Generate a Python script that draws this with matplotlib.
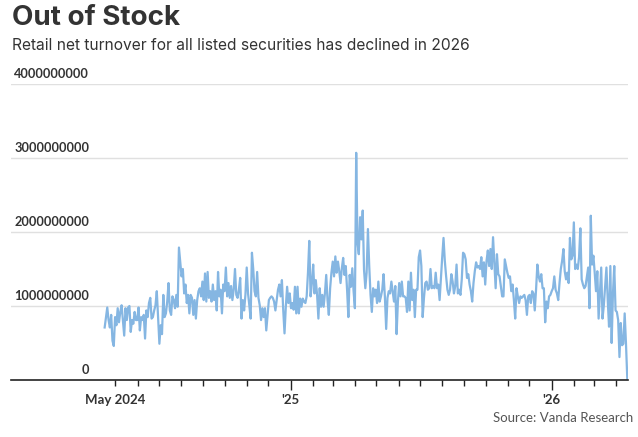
import pandas as pd
import numpy as np
import matplotlib.pyplot as plt
import matplotlib.transforms as mtransforms

# retail net turnover, billions (roughly every trading day or so)
turnover_bn = [
    0.71, 0.85, 0.98, 0.81, 0.71, 0.88, 0.53, 0.46, 0.85, 0.74, 0.97, 0.78, 0.92, 1.01, 0.81, 0.60,
    0.97, 0.81, 0.98, 1.00, 0.65, 0.81, 0.76, 0.92, 0.81, 0.81, 0.98, 0.67, 0.85, 0.81, 0.88, 0.56,
    0.94, 0.85, 1.04, 1.11, 0.83, 0.85, 0.94, 1.01, 1.20, 0.85, 0.49, 0.74, 0.62, 1.15, 0.85, 0.90,
    1.06, 1.31, 0.94, 0.88, 1.13, 1.08, 0.97, 1.15, 0.99, 1.79, 1.59, 1.40, 1.50, 1.17, 1.29, 1.04,
    1.15,
    0.90, 1.15, 1.11, 0.88, 1.08, 0.83, 1.08, 1.20, 1.24, 1.13, 1.33, 1.08, 1.44, 1.06, 1.46, 1.11,
    1.20, 1.06, 1.29, 1.08, 1.20, 0.94, 1.46, 1.13, 1.22, 0.90, 1.29, 1.20, 1.52, 1.13, 1.31, 1.11,
    1.27, 1.08, 1.22, 1.50, 1.15, 1.11, 1.22, 1.38, 0.83, 1.08, 0.94, 1.15, 1.52, 1.17, 1.01, 0.83,
    1.72, 1.50, 1.20, 1.13, 1.46, 1.11, 1.01, 0.81, 0.97, 0.85, 0.97, 0.67, 0.88, 1.08, 1.11, 1.13,
    1.11, 1.06, 0.94, 1.08, 1.22, 1.29,
    1.13, 1.35, 0.95, 0.63, 0.99, 1.26, 1.04, 1.17, 0.97, 1.04, 0.95, 1.26, 0.90, 1.26, 0.90, 1.10,
    0.99, 1.10, 1.06, 1.04, 1.13, 1.45, 1.88, 1.13, 1.31, 1.56, 1.17, 1.35, 1.15, 0.83, 1.24, 0.99,
    1.15, 0.99, 1.17, 1.42, 1.08, 0.88, 1.24, 1.45, 1.60, 1.40, 1.67, 1.45, 1.60, 1.47, 1.31, 1.51,
    1.65, 1.42, 1.54, 1.22, 0.85, 1.42, 1.26, 1.51, 1.20, 0.97, 3.07, 1.85, 1.70, 2.20, 1.90, 2.29,
    1.49, 1.24, 1.45, 2.04, 1.54,
    1.15, 0.92, 1.24, 1.13, 1.22, 1.04, 1.33, 1.06, 1.13, 1.22, 1.43, 1.13, 0.69, 1.11, 1.20, 1.17,
    1.33, 1.20, 1.06, 1.27, 0.62, 1.06, 1.31, 1.13, 1.33, 1.13, 1.13, 1.11, 0.92, 1.33, 0.94, 1.45,
    1.08, 1.22, 0.85, 1.22, 1.22, 1.66, 1.75, 1.54, 0.85, 1.11, 1.31, 1.33, 1.22, 1.24, 1.50, 1.24,
    1.27, 1.24, 1.45, 1.24, 1.29, 1.08, 1.38, 1.66, 1.92, 1.61, 1.40, 1.22, 1.15, 1.22, 1.43, 1.33,
    1.17, 1.27, 1.56,
    1.17, 1.22, 1.15, 1.36, 1.72, 1.70, 1.63, 1.38, 1.43, 1.29, 1.20, 1.06, 1.31, 1.47, 1.59, 1.52,
    1.54, 1.50, 1.66, 1.40, 1.59, 1.29, 1.61, 1.75, 1.54, 1.77, 1.50, 1.93, 1.59, 1.24, 1.70, 1.43,
    1.40, 1.27, 1.13, 1.13, 1.63, 1.54, 1.45, 1.38, 1.40, 1.20, 1.29, 1.08, 0.83, 1.24, 1.13, 1.04,
    1.13, 1.11, 1.13, 1.15, 1.08, 0.88, 1.13, 1.15, 1.04, 1.20, 1.17, 0.94, 1.22, 1.56, 1.40, 1.33,
    1.43, 1.24, 1.24,
    0.78, 1.06, 0.97, 1.13, 1.15, 1.20, 1.24, 1.40, 1.22, 1.17, 1.08, 1.31, 1.50, 1.61, 1.77, 1.47,
    1.36, 1.45, 1.31, 1.92, 1.63, 1.68, 2.13, 1.50, 1.56, 1.50, 1.66, 2.05, 1.36, 1.29, 1.24, 1.27,
    1.40, 1.52, 0.97, 2.22, 1.56, 1.68, 1.45, 1.20, 1.47, 0.83, 1.17, 1.52, 0.83, 1.01, 1.27, 1.52,
    1.08, 0.72, 1.54, 0.50, 1.17, 1.54, 0.94, 0.92, 0.81, 0.31, 0.77, 0.47, 0.49, 0.90, 0.49, 0.02,
]
first_day = '2024-04-16'
last_day = '2026-04-17'

y_ticks = [0, 1000000000, 2000000000, 3000000000, 4000000000]
x_labels = {'2024-05-01': 'May 2024', '2025-01-01': "'25", '2026-01-01': "'26"}

dates = pd.date_range(first_day, last_day, periods=len(turnover_bn))
values = np.array(turnover_bn) * 1e9

plt.rcParams['font.family'] = ['Lato', 'DejaVu Sans']

fig = plt.figure(figsize=(6.38, 4.37), dpi=100)
ax = fig.add_axes([11 / 638, 1 - 380 / 437, 617 / 638, 296 / 437])

ax.plot(dates, values, color='#85b6e2', lw=1.6, solid_joinstyle='round')

ax.set_ylim(0, 4e9)
ax.set_xlim(pd.Timestamp('2023-12-07'), pd.Timestamp('2026-04-18'))

for v in y_ticks[1:]:
    ax.axhline(v, color='#e0e0e0', lw=1, zorder=0)
trans = mtransforms.blended_transform_factory(ax.transAxes, ax.transData)
for v in y_ticks:
    ax.annotate(f'{v}', xy=(0.1265, v), xycoords=trans, xytext=(0, 3), textcoords='offset points',
                ha='right', va='bottom', fontsize=9.2, fontweight='bold', color='#333333',
                annotation_clip=False)

ax.set_yticks([])
for s in ['left', 'right', 'top']:
    ax.spines[s].set_visible(False)
ax.spines['bottom'].set_color('#222222')
ax.spines['bottom'].set_linewidth(1.2)

ax.set_xticks(pd.date_range('2024-05-01', '2026-04-01', freq='MS'), minor=True)
ax.set_xticks([pd.Timestamp(d) for d in x_labels])
ax.set_xticklabels(list(x_labels.values()), fontsize=9.5, fontweight='bold', color='#333333')
ax.tick_params(axis='x', which='minor', length=4, width=1, color='#222222')
ax.tick_params(axis='x', which='major', length=7, width=1, color='#222222', pad=3)
# May 2024 tick is a plain monthly one
ax.get_xaxis().get_major_ticks()[0].tick1line.set_markersize(4)

fig.text(12 / 638, 1 - 18 / 437, 'Out of Stock', fontsize=20, fontweight='bold', color='#333333',
         va='center', family=['Inter', 'DejaVu Sans'])
fig.text(12 / 638, 1 - 45 / 437, 'Retail net turnover for all listed securities has declined in 2026',
         fontsize=11.2, color='#333333', va='center', family=['Inter', 'DejaVu Sans'])
fig.text(633 / 638, 1 - 418 / 437, 'Source: Vanda Research', fontsize=9.5, color='#555555',
         ha='right', va='center')

fig.savefig('out.png', dpi=100)
